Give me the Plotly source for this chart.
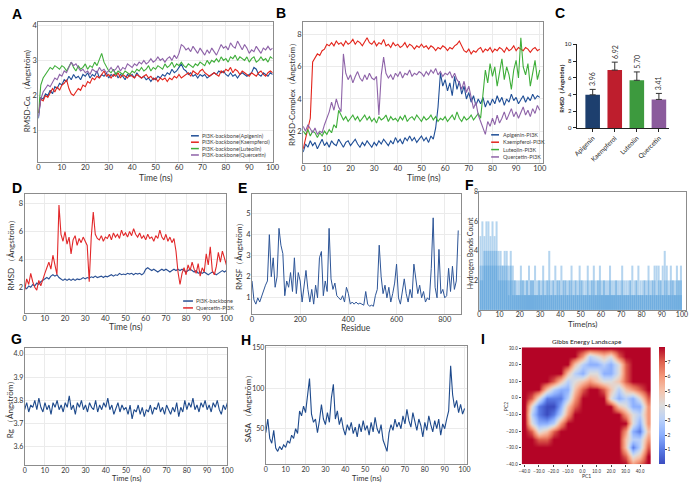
import numpy as np
import plotly.graph_objects as go

W, H = 694, 485
FONT = "Lato, 'Liberation Sans', Arial, sans-serif"

# ---------------- data ----------------
# Panel A: RMSD-Ca of PI3K backbone (0-100 ns, 1 ns step)
A_apigenin = [1.35,1.95,1.9,2.05,2.0,2.15,2.05,2.25,2.2,2.35,
    2.3,2.45,2.4,2.55,2.45,2.6,2.5,2.55,2.45,2.6,
    2.55,2.65,2.5,2.6,2.55,2.7,2.5,2.6,2.55,2.65,
    2.5,2.6,2.55,2.65,2.5,2.6,2.55,2.45,2.6,2.55,
    2.6,2.5,2.65,2.55,2.5,2.55,2.45,2.5,2.4,2.5,
    2.45,2.55,2.5,2.6,2.55,2.65,2.6,2.75,2.65,2.7,
    2.8,2.9,2.75,2.7,2.6,2.65,2.55,2.6,2.5,2.6,
    2.55,2.6,2.5,2.55,2.6,2.65,2.6,2.7,2.65,2.7,
    2.6,2.55,2.65,2.55,2.6,2.5,2.6,2.65,2.6,2.55,
    2.6,2.65,2.8,2.75,2.6,2.55,2.65,2.6,2.55,2.65,
    2.6]
A_kaempferol = [1.5,1.9,1.85,2.0,1.95,2.1,2.2,2.1,2.25,2.15,
    2.3,2.35,2.45,2.2,2.05,2.0,2.1,2.2,2.15,2.3,
    2.25,2.4,2.35,2.5,2.45,2.55,2.5,2.6,2.7,2.55,
    2.6,2.5,2.6,2.55,2.65,2.5,2.6,2.55,2.5,2.6,
    2.55,2.5,2.6,2.55,2.5,2.55,2.6,2.5,2.55,2.45,
    2.5,2.4,2.5,2.45,2.5,2.4,2.5,2.45,2.55,2.5,
    2.6,2.5,2.55,2.6,2.65,2.55,2.7,2.65,2.6,2.7,
    2.75,2.65,2.6,2.55,2.6,2.65,2.6,2.55,2.7,2.65,
    2.75,2.7,2.8,2.65,2.75,2.7,2.6,2.7,2.65,2.6,
    2.55,2.65,2.6,2.55,2.65,2.7,2.6,2.55,2.65,2.7,
    2.65]
A_luteolin = [1.5,2.3,2.5,2.6,2.7,2.8,2.75,2.85,2.8,2.75,
    2.85,2.8,2.7,2.85,2.95,2.8,2.7,2.85,2.75,2.8,
    2.9,2.75,2.85,2.8,2.95,2.85,3.0,3.2,2.95,2.8,
    2.7,2.65,2.75,2.6,2.7,2.65,2.6,2.7,2.65,2.6,
    2.7,2.65,2.75,2.7,2.8,2.7,2.75,2.85,2.7,2.8,
    2.75,2.85,2.8,2.75,2.9,2.8,2.85,2.95,2.8,2.9,
    2.85,2.95,2.85,2.8,2.9,2.85,2.8,2.9,2.85,2.95,
    2.9,2.85,3.0,2.9,3.0,2.95,3.05,2.95,3.1,3.0,
    3.05,2.95,3.1,3.05,3.15,3.0,3.1,3.05,3.0,3.1,
    2.95,3.05,3.1,2.95,3.0,3.1,3.0,3.05,2.95,3.1,
    3.05]
A_quercetin = [1.4,1.9,2.1,2.2,2.3,2.25,2.4,2.5,2.45,2.6,
    2.55,2.7,2.65,2.8,2.95,2.85,2.9,2.8,2.7,2.75,
    2.65,2.7,2.6,2.75,2.7,2.65,2.8,2.7,2.75,2.65,
    2.7,2.8,2.7,2.75,2.85,2.7,2.8,2.75,2.9,2.85,
    2.8,2.9,2.85,2.95,2.9,3.0,2.9,2.95,3.05,2.95,
    3.0,3.1,3.0,3.05,2.95,3.05,3.1,3.0,3.15,3.05,
    3.2,3.45,3.4,3.3,3.35,3.25,3.4,3.3,3.2,3.35,
    3.25,3.15,3.3,3.2,3.35,3.25,3.15,3.3,3.45,3.35,
    3.4,3.3,3.5,3.4,3.35,3.55,3.4,3.3,3.45,3.35,
    3.2,3.3,3.25,3.4,3.3,3.2,3.35,3.3,3.4,3.3,
    3.35]
A_names = ["PI3K-backbone(Apigenin)", "PI3K-backbone(Kaempferol)",
           "PI3K-backbone(Luteolin)", "PI3K-backbone(Quercetin)"]

# Panel B: RMSD of complexes
B_apigenin = [0.7,1.2,1.0,1.4,1.1,1.3,0.9,1.2,1.5,1.1,
    1.3,1.0,1.4,1.2,1.1,1.5,1.2,1.0,1.3,1.4,
    1.1,1.3,1.5,1.2,1.0,1.3,1.1,1.4,1.2,1.0,
    1.3,1.1,1.4,1.2,1.5,1.3,1.1,1.4,1.2,1.6,
    1.3,1.5,1.2,1.6,1.4,1.7,1.4,1.6,1.3,1.5,
    1.7,1.4,1.6,1.3,1.7,1.5,2.2,3.5,5.6,4.8,
    5.2,4.5,5.0,4.2,5.4,4.6,5.1,4.3,4.8,4.0,
    4.4,3.8,4.2,3.6,4.0,3.7,4.1,3.5,3.9,3.6,
    4.0,3.7,4.2,3.8,4.1,3.6,4.0,3.8,4.3,3.9,
    4.1,3.7,4.0,4.2,3.8,4.1,3.9,4.3,4.0,4.2,
    4.1]
B_kaempferol = [0.9,1.6,2.2,2.8,6.3,6.6,6.8,6.7,7.0,7.1,
    7.4,7.3,7.5,7.3,7.6,7.4,7.5,7.3,7.6,7.4,
    7.5,7.7,7.4,7.6,7.5,7.3,7.6,7.8,7.5,7.4,
    7.6,7.3,7.5,7.4,7.7,7.3,7.4,7.2,7.5,7.3,
    7.4,7.2,7.3,7.5,7.2,7.4,7.3,7.1,7.3,7.2,
    7.4,7.2,7.3,7.1,7.3,7.2,7.0,7.2,7.1,7.3,
    7.2,7.0,7.2,7.1,7.3,7.4,7.6,7.3,7.0,6.9,
    7.1,6.8,7.0,6.9,7.1,7.2,6.9,7.1,7.0,7.2,
    6.9,7.1,7.0,7.2,7.1,6.9,7.2,7.0,7.1,7.3,
    7.0,7.2,7.1,7.0,7.2,7.1,6.9,7.1,7.2,7.0,
    7.1]
B_luteolin = [2.0,1.8,2.1,1.7,2.0,1.9,1.6,1.9,1.7,2.0,
    1.8,2.1,1.9,2.4,2.2,3.3,3.0,2.7,2.9,2.6,
    2.8,3.0,2.7,2.9,2.6,2.8,3.0,2.7,2.9,2.6,
    2.8,2.5,2.9,2.7,2.8,3.0,2.6,2.9,2.7,2.8,
    2.6,2.9,2.7,3.0,2.6,2.8,2.9,2.7,3.0,2.8,
    2.6,2.9,2.7,2.8,3.0,2.7,2.9,2.6,2.8,2.7,
    2.9,2.6,2.8,3.0,2.7,3.2,2.8,2.6,2.9,2.7,
    2.8,3.0,2.7,2.9,3.1,2.8,4.5,5.8,5.0,6.2,
    5.4,6.0,4.8,5.6,6.5,5.2,6.0,5.5,4.6,5.8,
    6.4,5.3,7.8,6.0,5.5,6.2,4.8,5.6,6.4,5.2,
    5.8]
B_quercetin = [2.3,2.0,2.4,2.1,1.9,2.2,1.8,2.0,1.9,2.4,
    2.8,3.2,3.8,3.3,4.0,3.5,3.2,6.8,5.6,5.2,
    5.5,5.0,5.4,5.7,5.3,5.1,5.5,5.2,5.6,5.3,
    5.2,5.4,3.0,5.5,6.6,5.6,5.3,5.5,5.2,5.6,
    5.4,5.7,5.3,5.6,5.5,5.8,5.4,5.6,5.5,5.7,
    5.6,5.4,5.7,5.5,5.8,5.6,5.9,5.5,5.7,5.4,
    5.6,5.5,5.7,5.3,5.6,5.2,5.0,4.6,5.1,4.4,
    4.8,4.0,3.4,3.8,3.0,2.6,2.2,1.8,2.6,2.3,
    2.8,2.4,3.0,2.5,2.8,3.2,2.7,3.0,3.4,2.9,
    3.2,2.8,3.1,3.5,3.0,3.3,2.9,3.4,3.1,3.6,
    3.3]
B_names = ["Apigenin-PI3K", "Kaempferol-PI3K", "Luteolin-PI3K", "Quercetin-PI3K"]

# Panel C: mean RMSD bars
C_cats = ["Apigenin", "Kaempferol", "Luteolin", "Quercetin"]
C_vals = [3.96, 6.92, 5.70, 3.41]
C_err = [0.65, 0.95, 1.0, 0.72]

# Panel D
D_backbone = [2.0,1.9,2.1,2.0,2.2,2.1,2.3,2.2,2.4,2.5,
    2.6,2.7,2.6,2.8,2.9,2.8,2.9,2.7,2.6,2.5,
    2.6,2.5,2.6,2.5,2.6,2.5,2.6,2.55,2.6,2.7,
    2.6,2.7,2.65,2.75,2.7,2.8,2.7,2.75,2.8,2.7,
    2.8,2.75,2.85,2.9,2.8,2.9,2.85,3.0,2.9,2.95,
    2.9,3.0,2.95,3.0,2.9,3.0,2.95,3.0,2.9,3.0,
    3.3,3.4,3.3,3.2,3.3,3.2,3.1,3.2,3.3,3.2,
    3.3,3.2,3.1,3.2,3.3,3.2,3.3,3.2,3.3,3.2,
    3.1,3.2,3.3,3.2,3.1,3.2,3.0,3.1,3.0,3.1,
    3.0,2.9,3.0,3.1,3.0,2.9,3.0,3.1,3.2,3.1,
    3.2]
D_quercetin = [1.8,2.6,2.2,3.0,2.4,2.0,1.8,2.5,2.1,2.6,
    3.0,3.4,3.8,3.3,4.3,3.6,2.9,7.9,5.8,5.3,
    6.0,5.1,5.6,4.4,5.4,5.7,5.0,5.5,5.2,5.6,
    5.3,5.0,2.4,5.6,7.4,5.8,5.5,5.4,5.7,5.3,
    5.6,5.5,5.8,5.4,5.9,5.6,5.8,5.5,6.1,5.7,
    5.9,5.6,6.0,5.7,6.2,5.8,5.6,5.9,5.5,5.7,
    5.4,5.8,5.5,5.6,5.3,5.7,5.5,6.1,5.6,5.4,
    5.8,5.3,5.6,5.2,5.5,4.6,3.1,2.2,3.0,3.4,
    2.9,3.6,3.2,3.8,3.3,3.0,3.7,2.8,3.4,3.1,
    4.4,3.6,4.9,3.2,2.9,3.5,4.5,3.8,4.6,4.0,
    3.6]
D_names = ["PI3K-backbone", "Quercetin-PI3K"]

# Panel E: RMSF per residue (every 8th residue)
E_rmsf = [1.8,0.9,0.7,1.0,0.8,1.1,1.3,1.6,1.8,4.0,
    2.0,2.9,1.5,2.0,4.3,3.5,3.1,1.1,1.8,1.5,
    2.2,1.3,2.9,1.2,2.2,1.8,0.8,1.5,2.3,1.4,
    0.8,1.4,0.7,1.6,1.0,2.9,3.2,1.1,1.8,1.3,
    4.3,1.9,1.4,1.7,1.1,1.0,0.9,1.1,0.8,1.5,
    1.2,0.7,0.8,0.7,0.8,0.7,0.75,0.7,0.65,1.3,
    0.7,0.6,0.65,0.6,1.1,1.4,3.5,2.0,1.2,1.6,
    1.0,1.5,0.8,1.2,1.7,2.6,1.0,0.7,1.3,1.9,
    1.2,0.8,1.4,1.0,2.6,1.8,1.2,1.6,1.0,1.3,
    0.8,1.0,0.9,2.4,4.8,1.5,1.0,3.3,1.2,1.4,
    1.0,1.1,2.4,1.3,2.5,1.4,1.8,4.2]
E_residue = [8 * i for i in range(len(E_rmsf))]

# Panel F: hydrogen bond counts per 1 ns (max, typical, min)
F_hb_max = [5,6,5,6,6,5,6,5,6,4, 4,3,4,4,3,4,3,2,2,2, 3,2,2,2,3,2,2,3,2,2,
    2,3,2,2,4,2,2,3,2,2, 3,2,2,2,2,3,2,2,2,3, 2,2,2,3,2,2,3,2,2,3,
    2,2,2,2,3,2,2,2,2,2, 3,2,2,2,2,3,2,2,3,2, 2,2,2,3,2,2,3,3,3,2,
    3,4,3,2,3,2,2,3,2,3]
F_hb_typ = [3,3,4,4,4,4,4,4,4,3, 3,3,3,3,2,3,2,2,1,1, 2,2,1,2,1,2,2,1,1,2,
    1,2,1,2,2,1,2,1,2,2, 1,2,2,1,2,2,1,2,1,2, 2,1,1,2,1,2,2,1,2,2,
    1,2,1,1,2,1,1,2,1,1, 2,1,1,1,2,1,1,2,1,1, 1,2,1,2,1,2,2,1,2,2,
    1,2,2,1,2,2,1,2,2,2]
F_hb_min = [2,2,3,3,3,3,3,3,3,2, 2,2,2,2,1,2,1,1,1,1, 1,1,1,1,1,1,1,1,1,1,
    1,1,1,1,1,1,1,1,1,1, 1,1,1,1,1,1,1,1,1,1, 1,1,1,1,1,1,1,1,1,1,
    1,1,1,1,1,1,1,1,1,1, 1,1,1,1,1,1,1,1,1,1, 1,1,1,1,1,1,1,1,1,1,
    1,1,1,1,1,1,1,1,1,1]

# Panel G: radius of gyration
G_rg = [3.76,3.79,3.75,3.78,3.77,3.80,3.76,3.81,3.77,3.75,
    3.79,3.76,3.78,3.74,3.79,3.77,3.80,3.76,3.78,3.75,
    3.79,3.77,3.82,3.76,3.78,3.74,3.79,3.77,3.80,3.76,
    3.78,3.75,3.79,3.77,3.76,3.80,3.75,3.78,3.76,3.79,
    3.77,3.81,3.76,3.78,3.74,3.77,3.79,3.75,3.78,3.76,
    3.77,3.74,3.78,3.72,3.76,3.75,3.78,3.74,3.77,3.73,
    3.76,3.75,3.78,3.74,3.77,3.76,3.79,3.75,3.77,3.74,
    3.78,3.76,3.74,3.77,3.75,3.79,3.73,3.77,3.75,3.80,
    3.76,3.79,3.77,3.81,3.76,3.78,3.75,3.79,3.77,3.80,
    3.76,3.78,3.75,3.79,3.77,3.80,3.76,3.74,3.78,3.76,
    3.79]

# Panel H: SASA
H_sasa = [45,62,38,32,48,26,22,28,24,30,
    27,35,32,42,38,50,44,72,66,78,
    70,95,112,68,58,62,45,60,80,62,
    55,70,58,88,105,62,72,55,64,50,
    42,55,48,58,44,52,40,56,46,60,
    48,54,42,58,46,64,50,44,55,36,
    28,22,45,55,48,62,52,58,50,66,
    56,74,60,52,70,58,48,62,54,40,
    58,48,66,55,46,60,50,62,42,56,
    50,62,72,128,92,76,85,70,80,68,
    75]

# Panel I: Gibbs energy landscape (rows from PC2=30 down to -40, cols PC1=-40..45)
I_pc1 = [-40, -35, -30, -25, -20, -15, -10, -5, 0, 5, 10, 15, 20, 25, 30, 35, 40, 45]
I_pc2_top_down = [30, 25, 20, 15, 10, 5, 0, -5, -10, -15, -20, -25, -30, -35, -40]
I_rows = [
    "888888888888888888",
    "888888886345478888",
    "888888853223247888",
    "888888532442247888",
    "888875345654457888",
    "888532257887535678",
    "874111368888423247",
    "841002578888854226",
    "831013688888886436",
    "842236888888888426",
    "874578888888886215",
    "887788888888885336",
    "888888888888885137",
    "888888888888887458",
    "888888888888888678",
]

# ---------------- figure ----------------
fig = go.Figure()
annotations = []
shapes = []


def dom(l, r, t, b):
    return [l / W, r / W], [1 - b / H, 1 - t / H]


def txt(x, y, text, size, angle=0, bold=False, color="#333333", xanchor="center",
        yanchor="middle", family=FONT):
    annotations.append(dict(x=x / W, y=1 - y / H, xref="paper", yref="paper",
                            text=f"<b>{text}</b>" if bold else text, showarrow=False,
                            textangle=angle, xanchor=xanchor, yanchor=yanchor,
                            font=dict(size=size, color=color, family=family)))


def box_axis(domain, rng, tickvals, anchor, size=7.5, grid=True, fmt=None, standoff=-1):
    d = dict(domain=domain, range=rng, tickvals=tickvals, anchor=anchor, showline=True,
             mirror=True, linecolor="#8c8c8c", linewidth=1, showgrid=grid,
             gridcolor="#ebebeb", gridwidth=1, zeroline=False, ticks="",
             ticklabelstandoff=standoff,
             tickfont=dict(size=size, color="#333333", family=FONT), fixedrange=True)
    if fmt:
        d["tickformat"] = fmt
    return d


def legend(x0, ys, names, colors, size=5.5, seg=8):
    for y, n, c in zip(ys, names, colors):
        shapes.append(dict(type="line", xref="paper", yref="paper",
                           x0=x0 / W, x1=(x0 + seg) / W, y0=1 - y / H, y1=1 - y / H,
                           line=dict(color=c, width=1.5)))
        txt(x0 + seg + 1.5, y, n, size, color="#444444", xanchor="left")


BLUE, RED, GREEN, PURPLE = "#1f4e96", "#e3241b", "#3fae3a", "#8e63a8"
four = [BLUE, RED, GREEN, PURPLE]
layout = {}
LW = 1.1

# ---- A ----
t = np.linspace(0, 100, len(A_apigenin))
for ys, n, c in zip([A_apigenin, A_kaempferol, A_luteolin, A_quercetin], A_names, four):
    fig.add_trace(go.Scatter(x=t, y=ys, name=n, mode="lines", line=dict(color=c, width=LW),
                             xaxis="x", yaxis="y", showlegend=False))
xd, yd = dom(35, 273, 17, 160)
layout["xaxis"] = box_axis(xd, [0, 100], list(range(0, 101, 10)), "y", standoff=-2)
layout["yaxis"] = box_axis(yd, [0.1, 4.1], [1, 2, 3, 4], "x")
legend(190, [133, 139.5, 146, 152.5], A_names, four)
txt(154, 175.5, "Time (ns)", 8.5)
txt(23, 88, "RMSD-Cα （Ångström)", 8, angle=-90)

# ---- B ----
t = np.linspace(0, 100, len(B_apigenin))
for ys, n, c in zip([B_apigenin, B_kaempferol, B_luteolin, B_quercetin], B_names, four):
    fig.add_trace(go.Scatter(x=t, y=ys, name=n, mode="lines", line=dict(color=c, width=LW),
                             xaxis="x2", yaxis="y2", showlegend=False))
xd, yd = dom(304, 548, 17, 161)
layout["xaxis2"] = box_axis(xd, [0, 101.5], list(range(0, 101, 10)), "y2", standoff=-2)
layout["yaxis2"] = box_axis(yd, [0, 8.8], [2, 4, 6, 8], "x2")
legend(495, [132, 139.5, 147, 154.5], B_names, four)
txt(426, 176, "Time (ns)", 8.5)
txt(292, 89, "RMSD-Complex（Ångström）", 8, angle=-90)

# ---- C ----
C_colors = ["#1d3f6e", "#be1e2d", "#3d9a3e", "#8b5b9c"]
fig.add_trace(go.Bar(x=C_cats, y=C_vals, width=0.66, marker=dict(color=C_colors, line=dict(width=0)),
                     error_y=dict(type="data", array=C_err, arrayminus=[0] * len(C_err),
                                  symmetric=False, color="#333333", thickness=1, width=3),
                     xaxis="x3", yaxis="y3", showlegend=False, name="RMSD"))
xd, yd = dom(582, 676, 40, 125)
layout["xaxis3"] = dict(domain=xd, anchor="y3", range=[-0.72, 3.47], showline=True,
                        linecolor="#222222", linewidth=1, ticks="outside", ticklen=3,
                        tickcolor="#222222", tickangle=-45, showgrid=False, fixedrange=True,
                        tickfont=dict(size=6.5, color="#222222", family=FONT))
layout["yaxis3"] = dict(domain=yd, anchor="x3", range=[0, 10], tickvals=[0, 2, 4, 6, 8, 10],
                        showline=True, linecolor="#222222", linewidth=1, ticks="outside",
                        ticklen=3, tickcolor="#222222", showgrid=False, zeroline=False,
                        fixedrange=True, tickfont=dict(size=6, color="#222222", family=FONT))
for c, v, e in zip(C_cats, C_vals, C_err):
    annotations.append(dict(x=c, y=v + e, xref="x3", yref="y3", text=f"{v:.2f}",
                            showarrow=False, textangle=-90, yanchor="bottom", yshift=1,
                            font=dict(size=7, color="#333333", family=FONT)))
txt(567, 83, "RMSD（Ångström）", 5.5, angle=-90, bold=True, color="#222222")

# ---- D ----
t = np.linspace(0, 100, len(D_backbone))
for ys, n, c in zip([D_backbone, D_quercetin], D_names, ["#2a5094", "#e2282a"]):
    fig.add_trace(go.Scatter(x=t, y=ys, name=n, mode="lines", line=dict(color=c, width=LW),
                             xaxis="x4", yaxis="y4", showlegend=False))
xd, yd = dom(21, 226, 192, 313)
layout["xaxis4"] = box_axis(xd, [0, 100], list(range(0, 101, 10)), "y4", standoff=-2)
layout["yaxis4"] = box_axis(yd, [0.17, 8.7], [2, 4, 6, 8], "x4")
legend(182, [301, 308], D_names, ["#2a5094", "#e2282a"], seg=10)
txt(123, 327, "Time (ns)", 8.5)
txt(7, 252, "RMSD （Ångström）", 8, angle=-90)

# ---- E ----
fig.add_trace(go.Scatter(x=E_residue, y=E_rmsf, mode="lines", name="RMSF",
                         line=dict(color="#2d5597", width=1), xaxis="x5", yaxis="y5",
                         showlegend=False))
xd, yd = dom(252, 464, 192, 314)
layout["xaxis5"] = box_axis(xd, [0, 866], [0, 200, 400, 600, 800], "y5", standoff=-2)
layout["yaxis5"] = box_axis(yd, [0.24, 5.94], [1, 2, 3, 4, 5], "x5")
txt(358, 328, "Residue", 8.5)
txt(239, 253, "RMSF（Ångström）", 8, angle=-90)

# ---- F ----
tb = np.arange(len(F_hb_max)) + 0.5
for ys, n in zip([F_hb_max, F_hb_typ, F_hb_min], ["max", "typical", "min"]):
    fig.add_trace(go.Bar(x=tb, y=ys, width=1, name=n, marker=dict(color="#4f9bd8", line=dict(width=0)),
                         opacity=0.42, xaxis="x6", yaxis="y6", showlegend=False))
xd, yd = dom(483, 693, 190, 310)
layout["xaxis6"] = box_axis(xd, [0, 102], list(range(0, 101, 10)), "y6", size=7, grid=False, standoff=-2)
layout["yaxis6"] = box_axis(yd, [0, 8], [2, 4, 6, 8], "x6", size=7, grid=False)
txt(588, 324, "Time(ns)", 8)
txt(473, 253, "Hydrogen Bonds Count", 7, angle=-90)

# ---- G ----
t = np.linspace(0, 100, len(G_rg))
fig.add_trace(go.Scatter(x=t, y=G_rg, mode="lines", name="Rg", line=dict(color="#1e4a8c", width=LW),
                         xaxis="x7", yaxis="y7", showlegend=False))
xd, yd = dom(21, 227, 349, 468)
layout["xaxis7"] = box_axis(xd, [0, 100], list(range(0, 101, 10)), "y7", size=7, standoff=-2)
layout["yaxis7"] = box_axis(yd, [3.52, 4.025], [3.6, 3.7, 3.8, 3.9, 4.0], "x7", size=7, fmt=".1f")
txt(124, 481.5, "Time (ns)", 7.5)
txt(6, 409, "Rg （Ångström）", 8, angle=-90)

# ---- H ----
t = np.linspace(0, 100, len(H_sasa))
fig.add_trace(go.Scatter(x=t, y=H_sasa, mode="lines", name="SASA", line=dict(color="#1e4a8c", width=LW),
                         xaxis="x8", yaxis="y8", showlegend=False))
xd, yd = dom(266, 470, 347, 467)
layout["xaxis8"] = box_axis(xd, [0, 101], list(range(0, 101, 10)), "y8", size=7, standoff=-2)
layout["yaxis8"] = box_axis(yd, [6, 152], [50, 100, 150], "x8", size=7)
txt(368, 481.5, "Time (ns)", 7.5)
txt(248, 409, "SASA （Ångström）", 8, angle=-90)

# ---- I ----
z = [[int(ch) for ch in row] for row in I_rows[::-1]]
pc2 = I_pc2_top_down[::-1]
coolwarm = [[0.0, "#3b4cc0"], [0.125, "#5b7ce6"], [0.25, "#8db0fe"], [0.375, "#b9d0f9"],
            [0.5, "#dddcdc"], [0.625, "#f5c4ad"], [0.75, "#f4987a"], [0.875, "#de604d"],
            [1.0, "#b40426"]]
fig.add_trace(go.Heatmap(x=I_pc1, y=pc2, z=z, zmin=0, zmax=8, zsmooth="best",
                         colorscale=coolwarm, xaxis="x9", yaxis="y9", name="G",
                         colorbar=dict(x=666 / W, xanchor="left", y=1 - (348 + 467) / 2 / H,
                                       yanchor="middle", len=(467 - 348) / H, lenmode="fraction",
                                       thickness=6, thicknessmode="pixels", outlinewidth=0,
                                       tickvals=[1, 2, 3, 4, 5, 6, 7], ticks="outside", ticklen=2,
                                       tickfont=dict(size=5, color="#333333"), xpad=0, ypad=0)))
xd, yd = dom(526, 658, 348, 467)
layout["xaxis9"] = dict(domain=xd, anchor="y9", range=[-42, 48], tickvals=list(range(-40, 41, 10)),
                        tickformat=".1f", tickangle=0, ticks="outside", ticklen=2, showgrid=False,
                        zeroline=False, showline=False, fixedrange=True,
                        tickfont=dict(size=4.5, color="#333333", family="Arial, 'Liberation Sans'"))
layout["yaxis9"] = dict(domain=yd, anchor="x9", range=[-40, 30.5], tickvals=list(range(-40, 31, 10)),
                        tickformat=".1f", ticks="outside", ticklen=2, showgrid=False, zeroline=False,
                        showline=False, fixedrange=True,
                        tickfont=dict(size=4.5, color="#333333", family="Arial, 'Liberation Sans'"))
txt(592, 342, "Gibbs Energy Landscape", 6.5, color="#222222")
txt(592, 479, "PC1", 5)
txt(510, 408, "PC2", 5, angle=-90)

# ---- panel letters ----
for L, x, y in [("A", 13, 9), ("B", 281, 8), ("C", 565, 8), ("D", 13, 186), ("E", 242, 186),
                ("F", 473, 183), ("G", 13, 340), ("H", 246, 341), ("I", 487, 340)]:
    txt(x, y, L, 14, bold=True, color="#000000", family="Arial, 'Liberation Sans', sans-serif")

fig.update_layout(width=W, height=H, margin=dict(l=0, r=0, t=0, b=0), paper_bgcolor="white",
                  plot_bgcolor="white", barmode="overlay", showlegend=False,
                  font=dict(family=FONT, color="#333333"), annotations=annotations,
                  shapes=shapes, **layout)
fig.write_html("out.html")
